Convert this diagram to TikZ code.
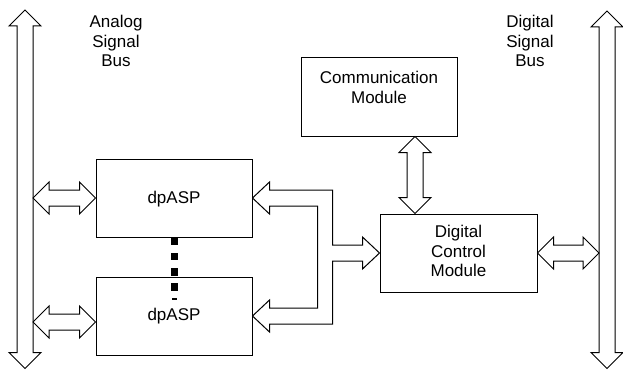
\documentclass[tikz,border=0pt]{standalone}
\usepackage{fontspec}
\setmainfont{Liberation Sans}
\usetikzlibrary{calc}
\tikzset{
  blk/.style={draw=black, line width=1pt, line join=miter, fill=white},
  box/.style={draw=black, line width=1pt, minimum width=156pt, minimum height=78pt, inner sep=0pt},
  lbl/.style={inner sep=0pt, align=center, font=\fontsize{17}{19.5}\selectfont},
}
\newcommand{\hdbl}[2]{\draw[blk] let \p1=(#1), \p2=(#2) in
  (\p1) -- (\x1+16pt,\y1+16pt) -- (\x1+16pt,\y1+8pt) -- (\x2-16pt,\y1+8pt) -- (\x2-16pt,\y1+16pt)
  -- (\x2,\y1) -- (\x2-16pt,\y1-16pt) -- (\x2-16pt,\y1-8pt) -- (\x1+16pt,\y1-8pt) -- (\x1+16pt,\y1-16pt) -- cycle;}
\newcommand{\vdbl}[2]{\draw[blk] let \p1=(#1), \p2=(#2) in
  (\p1) -- (\x1+16pt,\y1-16pt) -- (\x1+8pt,\y1-16pt) -- (\x1+8pt,\y2+16pt) -- (\x1+16pt,\y2+16pt)
  -- (\x1,\y2) -- (\x1-16pt,\y2+16pt) -- (\x1-8pt,\y2+16pt) -- (\x1-8pt,\y1-16pt) -- (\x1-16pt,\y1-16pt) -- cycle;}
\begin{document}
\begin{tikzpicture}[x=1pt,y=-1pt]
\useasboundingbox (0,0) rectangle (623,369);
% buses
\coordinate (aT) at (25,10);
\coordinate (aB) at (25,368.5);
\coordinate (dT) at (607,11);
\coordinate (dB) at (607,368.5);
\vdbl{aT}{aB}
\vdbl{dT}{dB}
\coordinate (abusR) at (33,0);
\coordinate (dbusL) at (599,0);
\node[lbl, anchor=north] (atext) at (116,15) {Analog\\Signal\\Bus};
\node[lbl, anchor=north] (dtext) at (530,15) {Digital\\Signal\\Bus};
% boxes
\node[box] (dp1) at (174,198) {};
\node[box] (dp2) at (174,316) {};
\node[box] (comm) at (379,97) {};
\node[box, minimum width=157pt] (dcm) at (458.5,253) {};
\node[lbl, anchor=base] (dp1t) at (174,203) {dpASP};
\node[lbl, anchor=base] (dp2t) at (174,320) {dpASP};
\node[lbl, anchor=north] (commt) at (379,71) {Communication\\Module};
\node[lbl, anchor=north] (dcmt) at (458.5,225) {Digital\\Control\\Module};
% dots between dpASP blocks
\foreach \yy in {237,252.5,268,283} {
  \fill[black] (171,\yy) rectangle (178,\yy+7.5);
}
\fill[black] (171.5,298.3) rectangle (177,299.8);
% connectors
\coordinate (dp2l) at ($(dp2.west)+(0,6)$);
\hdbl{abusR |- dp1.west}{dp1.west}
\hdbl{abusR |- dp2l}{dp2l}
\hdbl{dcm.east}{dbusL |- dcm.east}
\coordinate (cdtop) at ($(comm.south)+(36,0)$);
\vdbl{cdtop}{cdtop |- dcm.north}
% fork arrow from dpASP blocks to digital control module
\draw[blk] let \p1=(dp1.east), \p2=(dp2.east), \p3=(dcm.west) in
  (\p1) -- (\x1+17pt,\y1+16pt) -- (\x1+17pt,\y1+8pt) -- (\x1+80pt,\y1+8pt) -- (\x1+80pt,\y3+8pt)
  -- (\x3-17pt,\y3+8pt) -- (\x3-17pt,\y3+16pt) -- (\p3) -- (\x3-17pt,\y3-16pt) -- (\x3-17pt,\y3-8pt)
  -- (\x1+80pt,\y3-8pt) -- (\x1+80pt,\y2-8pt) -- (\x2+17pt,\y2-8pt) -- (\x2+17pt,\y2-16pt) -- (\p2)
  -- (\x2+17pt,\y2+16pt) -- (\x2+17pt,\y2+8pt) -- (\x1+65pt,\y2+8pt) -- (\x1+65pt,\y1-8pt)
  -- (\x1+17pt,\y1-8pt) -- (\x1+17pt,\y1-16pt) -- cycle;
\end{tikzpicture}
\end{document}
